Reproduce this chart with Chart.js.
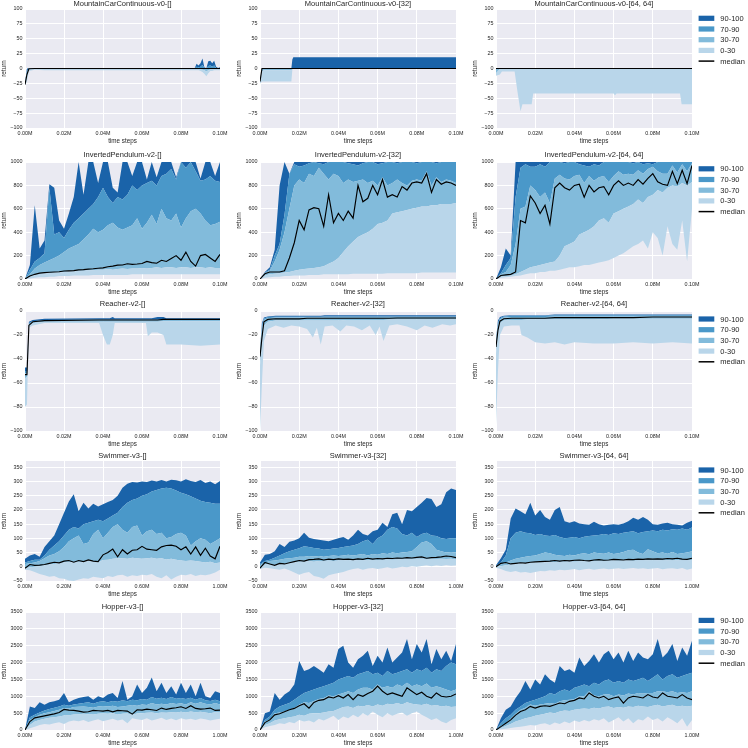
<!DOCTYPE html>
<html>
<head>
<meta charset="utf-8">
<script src="https://cdn.jsdelivr.net/npm/chart.js@4.4.1/dist/chart.umd.min.js"></script>
<style>
  body { margin: 0; background: #fff; width: 748px; height: 748px; overflow: hidden; position: relative; }
  canvas { position: absolute; }
</style>
</head>
<body>
<script>
// ================= LABELS / TICKS =================

const envNames = ['MountainCarContinuous-v0', 'InvertedPendulum-v2', 'Reacher-v2', 'Swimmer-v3', 'Hopper-v3'];
const archNames = ['[]', '[32]', '[64, 64]'];
const legendLabels = ['90-100', '70-90', '30-70', '0-30', 'median'];

const xTicksShort = [0, 0.02, 0.04, 0.06, 0.08, 0.1];
const xTicksLong = [0, 0.2, 0.4, 0.6, 0.8, 1.0];
const yTicksMC = [-100, -75, -50, -25, 0, 25, 50, 75, 100];
const yTicksIP = [0, 200, 400, 600, 800, 1000];
const yTicksRE = [-100, -80, -60, -40, -20, 0];
const yTicksSW = [-50, 0, 50, 100, 150, 200, 250, 300, 350];
const yTicksHO = [0, 500, 1000, 1500, 2000, 2500, 3000, 3500];

// time steps (millions)
const xShort = [0, 0.0025, 0.005, 0.0075, 0.01, 0.0125, 0.015, 0.0175, 0.02, 0.0225, 0.025, 0.0275, 0.03, 0.0325, 0.035, 0.0375, 0.04, 0.0425, 0.045, 0.0475, 0.05, 0.0525, 0.055, 0.0575, 0.06, 0.0625, 0.065, 0.0675, 0.07, 0.0725, 0.075, 0.0775, 0.08, 0.0825, 0.085, 0.0875, 0.09, 0.0925, 0.095, 0.0975, 0.1];
const xLong = [0, 0.025, 0.05, 0.075, 0.1, 0.125, 0.15, 0.175, 0.2, 0.225, 0.25, 0.275, 0.3, 0.325, 0.35, 0.375, 0.4, 0.425, 0.45, 0.475, 0.5, 0.525, 0.55, 0.575, 0.6, 0.625, 0.65, 0.675, 0.7, 0.725, 0.75, 0.775, 0.8, 0.825, 0.85, 0.875, 0.9, 0.925, 0.95, 0.975, 1.0];

// ================= MOUNTAIN CAR =================

const mcA_x   = [0, 0.001, 0.002, 0.005, 0.01, 0.03, 0.05, 0.07, 0.085, 0.087, 0.088, 0.089, 0.09, 0.091, 0.092, 0.093, 0.094, 0.095, 0.096, 0.097, 0.098, 0.099, 0.1];
const mcA_min = [-28, -22, -4, -2, -3, -3, -3, -3, -3, -3, -3, -3, -4, -6, -9, -13, -8, -4, -4, -3, -3, -3, -3];
const mcA_p30 = [-27, -15, -2, -1, -1.5, -1.5, -1.5, -1.5, -1.5, -1.5, -1.5, -1.5, -1.5, -2, -3, -5, -3, -1.5, -1.5, -1.5, -1.5, -1.5, -1.5];
const mcA_p70 = [-26, -8, -0.5, 0, 0, 0, 0, 0, 0, 0, 0, 0, 0, 0, 0, 0, 0, 0, 0, 0, 0, 0, 0];
const mcA_p90 = [-25, -4, 0, 0, 0, 0, 0, 0, 0, 0, 3, 2, 3, 6, 1, 0, 4, 5, 3, 5, 1, 0, 0.5];
const mcA_max = [-24, 0, 0.5, 0.5, 0.5, 0.5, 0.5, 0.5, 0.5, 0.5, 8, 5, 9, 17, 2, 0.5, 12, 13, 9, 13, 3, 1, 2];
const mcA_med = [-27, -10, -0.5, 0, 0, 0, 0, 0, 0, 0, 0, 0, 0, 0, 0, 0, 0, 0, 0, 0, 0, 0, 0];

const mcB_x   = [0, 0.001, 0.002, 0.016, 0.0165, 0.017, 0.03, 0.05, 0.07, 0.09, 0.1];
const mcB_min = [-25, -22, -22, -22, -2, 0, 0, 0, 0, 0, 0];
const mcB_p30 = [-24, -5, -3, -3, -1, 0, 0, 0, 0, 0, 0];
const mcB_p70 = [-22, 0, 0, 0, 0, 0, 0, 0, 0, 0, 0];
const mcB_p90 = [-21, 0, 0, 0, 0, 0, 0, 0, 0, 0, 0];
const mcB_max = [-20, 0, 0, 0, 15, 19, 19, 19, 19, 19, 19];
const mcB_med = [-22, 0, 0, 0, 0, 0, 0, 0, 0, 0, 0];

const mcC_x   = [0, 0.002, 0.003, 0.0095, 0.011, 0.0125, 0.0135, 0.0182, 0.019, 0.06, 0.0607, 0.0615, 0.0939, 0.0947, 0.1];
const mcC_min = [-12, -10, -5, -5, -40, -72, -60, -60, -42, -42, -45, -42, -42, -60, -60];
const mcC_p30 = [-8, -1, 0, 0, 0, 0, 0, 0, 0, 0, 0, 0, 0, 0, 0];
const mcC_p70 = [0, 0, 0, 0, 0, 0, 0, 0, 0, 0, 0, 0, 0, 0, 0];
const mcC_p90 = [0, 0, 0, 0, 0, 0, 0, 0, 0, 0, 0, 0, 0, 0, 0];
const mcC_max = [0.5, 0.5, 0.5, 0.5, 0.5, 0.5, 0.5, 0.5, 0.5, 0.5, 0.5, 0.5, 0.5, 0.5, 0.5];
const mcC_med = [0, 0, 0, 0, 0, 0, 0, 0, 0, 0, 0, 0, 0, 0, 0];

// ================= INVERTED PENDULUM =================

const ipA_min = [0, 5, 10, 15, 15, 20, 20, 25, 25, 25, 30, 30, 30, 30, 35, 35, 35, 35, 35, 35, 35, 35, 40, 40, 40, 40, 40, 40, 40, 40, 40, 40, 40, 40, 40, 40, 40, 40, 40, 40, 40];
const ipA_p30 = [0, 20, 40, 45, 50, 50, 55, 55, 60, 65, 65, 70, 70, 75, 75, 80, 80, 85, 80, 85, 90, 85, 90, 90, 95, 90, 95, 100, 95, 100, 100, 95, 100, 100, 95, 100, 100, 95, 100, 95, 95];
const ipA_p70 = [0, 40, 90, 120, 140, 160, 180, 200, 230, 260, 280, 300, 340, 380, 430, 400, 420, 460, 480, 440, 420, 440, 460, 520, 430, 480, 550, 470, 600, 520, 500, 560, 440, 520, 580, 600, 560, 500, 460, 470, 490];
const ipA_p90 = [0, 80, 150, 180, 220, 780, 380, 400, 350, 420, 480, 520, 560, 600, 640, 700, 780, 700, 650, 700, 680, 720, 800, 760, 800, 820, 840, 800, 880, 900, 940, 850, 1000, 950, 1000, 920, 840, 850, 880, 840, 830];
const ipA_max = [0, 120, 630, 260, 330, 810, 780, 500, 430, 560, 700, 1000, 720, 1000, 1000, 820, 1000, 1000, 780, 740, 1000, 1000, 880, 1000, 1000, 850, 1000, 870, 1000, 1000, 1000, 870, 1000, 1000, 1000, 1000, 860, 1000, 1000, 880, 1000];
const ipA_med = [0, 25, 40, 50, 55, 58, 60, 62, 68, 70, 72, 78, 80, 85, 88, 92, 95, 105, 110, 118, 120, 130, 125, 128, 132, 150, 140, 135, 160, 150, 175, 200, 160, 230, 150, 110, 200, 210, 180, 150, 210];

const ipB_min = [0, 10, 15, 20, 20, 25, 25, 30, 30, 30, 35, 35, 35, 40, 40, 40, 40, 40, 40, 45, 45, 45, 45, 45, 45, 45, 50, 50, 50, 50, 50, 50, 50, 55, 55, 55, 55, 55, 55, 55, 55];
const ipB_p30 = [0, 30, 40, 45, 50, 55, 60, 70, 80, 85, 90, 95, 100, 110, 130, 150, 180, 230, 280, 320, 360, 380, 400, 430, 470, 480, 500, 560, 570, 580, 590, 600, 610, 620, 620, 630, 630, 640, 640, 640, 650];
const ipB_p70 = [0, 50, 70, 150, 250, 400, 600, 800, 850, 820, 900, 880, 950, 900, 850, 900, 880, 820, 850, 830, 840, 850, 820, 840, 800, 870, 800, 820, 850, 820, 800, 840, 850, 840, 920, 800, 870, 830, 850, 840, 820];
const ipB_p90 = [0, 55, 80, 200, 300, 550, 900, 980, 960, 970, 990, 1000, 990, 980, 1000, 1000, 1000, 1000, 990, 980, 970, 990, 1000, 1000, 980, 990, 1000, 1000, 990, 1000, 1000, 1000, 990, 1000, 1000, 1000, 990, 1000, 1000, 1000, 1000];
const ipB_max = [0, 60, 100, 250, 800, 1000, 900, 1000, 1000, 1000, 1000, 1000, 1000, 1000, 1000, 1000, 1000, 1000, 1000, 1000, 1000, 1000, 1000, 1000, 1000, 1000, 1000, 1000, 1000, 1000, 1000, 1000, 1000, 1000, 1000, 1000, 1000, 1000, 1000, 1000, 1000];
const ipB_med = [0, 45, 60, 60, 60, 70, 180, 310, 500, 420, 590, 610, 600, 450, 720, 480, 560, 500, 580, 520, 800, 660, 690, 800, 720, 850, 700, 720, 700, 790, 760, 820, 830, 820, 900, 740, 850, 810, 830, 820, 800];

const ipC_min = [0, 10, 15, 20, 25, 30, 40, 50, 50, 60, 60, 70, 70, 80, 90, 100, 100, 110, 120, 120, 130, 140, 150, 160, 180, 200, 220, 250, 280, 300, 330, 260, 400, 350, 200, 450, 300, 250, 500, 150, 600];
const ipC_p30 = [0, 20, 25, 30, 40, 60, 80, 100, 110, 120, 130, 140, 150, 200, 280, 300, 320, 380, 400, 420, 450, 500, 520, 480, 560, 580, 600, 620, 640, 680, 650, 700, 720, 760, 740, 780, 800, 790, 820, 800, 830];
const ipC_p70 = [0, 40, 60, 120, 300, 600, 620, 800, 760, 700, 740, 650, 860, 890, 860, 850, 880, 890, 820, 880, 840, 870, 880, 830, 880, 920, 890, 900, 890, 930, 900, 940, 960, 920, 900, 900, 970, 910, 980, 920, 990];
const ipC_p90 = [0, 50, 120, 180, 700, 950, 980, 960, 960, 980, 960, 1000, 1000, 1000, 990, 1000, 1000, 980, 970, 960, 980, 970, 1000, 1000, 1000, 1000, 1000, 1000, 990, 1000, 980, 990, 980, 1000, 1000, 1000, 1000, 1000, 1000, 1000, 1000];
const ipC_max = [0, 100, 260, 200, 1000, 1000, 1000, 1000, 1000, 1000, 1000, 1000, 1000, 1000, 1000, 1000, 1000, 1000, 1000, 1000, 1000, 1000, 1000, 1000, 1000, 1000, 1000, 1000, 1000, 1000, 1000, 1000, 1000, 1000, 1000, 1000, 1000, 1000, 1000, 1000, 1000];
const ipC_med = [0, 30, 35, 40, 60, 500, 480, 710, 650, 560, 630, 470, 780, 820, 780, 760, 800, 810, 700, 800, 745, 780, 790, 720, 800, 840, 800, 820, 800, 850, 810, 860, 900, 830, 810, 800, 920, 815, 930, 815, 970];

// ================= REACHER =================

const reA_x   = [0, 0.001, 0.002, 0.004, 0.01, 0.038, 0.040, 0.042, 0.0435, 0.045, 0.046, 0.062, 0.063, 0.065, 0.068, 0.071, 0.0725, 0.08, 0.09, 0.1];
const reA_min = [-80, -78, -14, -12, -10, -10, -20, -28, -28, -20, -10, -10, -21, -18, -18, -20, -28, -28, -29, -28];
const reA_p30 = [-56, -55, -12, -10, -9, -9, -9, -9, -9, -9, -9, -9, -9, -9, -9, -8.5, -8.5, -8.5, -8.5, -8.5];
const reA_p70 = [-52, -52, -11, -9, -8, -7.5, -7.5, -7.5, -7.5, -7.5, -7.5, -7.5, -7.5, -7.5, -7.5, -7.5, -7.5, -7.5, -7.5, -7.5];
const reA_p90 = [-50, -50, -10, -8.5, -7.5, -7, -7, -7, -7, -7, -7, -7, -7, -7, -7, -7, -7, -7, -7, -7];
const reA_max = [-47, -47, -9, -7.5, -6.5, -6, -6, -6, -6, -5, -6, -6, -6, -6, -5, -5, -6, -6, -6, -6];
const reA_med = [-53, -53, -12, -9, -8, -7.5, -7.5, -7.5, -7.5, -7.5, -7.5, -7.5, -7.5, -7.5, -7.5, -7, -7, -7, -7, -7];

const reB_x   = [0, 0.001, 0.002, 0.004, 0.008, 0.012, 0.016, 0.02, 0.024, 0.027, 0.029, 0.031, 0.033, 0.037, 0.041, 0.044, 0.048, 0.052, 0.056, 0.059, 0.061, 0.063, 0.066, 0.07, 0.075, 0.08, 0.084, 0.088, 0.093, 0.097, 0.1];
const reB_min = [-100, -60, -25, -15, -12, -14, -12, -13, -15, -22, -14, -28, -13, -12, -17, -12, -13, -16, -12, -20, -13, -25, -12, -11, -13, -16, -12, -14, -11, -12, -11];
const reB_p30 = [-45, -28, -12, -9, -8, -8, -8, -8, -8, -8, -8, -8, -8, -8, -8, -7.5, -7.5, -7.5, -7.5, -7.5, -7.5, -7.5, -7, -7, -7, -7, -7, -7, -7, -7, -7];
const reB_p70 = [-36, -15, -7.5, -6, -5.5, -5.5, -5.5, -5.5, -5.5, -5.5, -5.5, -5.5, -5, -5, -5, -5, -5, -5, -5, -5, -5, -5, -5, -5, -5, -5, -5, -5, -5, -5, -5];
const reB_p90 = [-34, -12, -6.5, -5, -4.8, -4.8, -4.8, -4.8, -4.8, -4.8, -4.8, -4.8, -4.5, -4.5, -4.5, -4.5, -4.5, -4.5, -4.5, -4.5, -4.5, -4.5, -4.5, -4.5, -4.5, -4.5, -4.5, -4.5, -4.5, -4.5, -4.5];
const reB_max = [-32, -10, -5.5, -4.5, -4, -4, -4, -4, -4, -4, -4, -4, -3.5, -3.5, -3.5, -3.5, -3.5, -3.5, -3.5, -3.5, -3.5, -3.5, -3.5, -3.5, -3.5, -3.5, -3.5, -3.5, -3.5, -3.5, -3.5];
const reB_med = [-38, -22, -9, -7, -6.5, -6.5, -6.5, -6.5, -6, -6, -6, -6, -6, -6, -6, -6, -6, -6, -6, -6, -6, -6, -6, -5.8, -5.8, -5.8, -5.8, -5.8, -5.8, -5.8, -5.8];

const reC_x   = [0, 0.001, 0.002, 0.004, 0.008, 0.012, 0.013, 0.016, 0.02, 0.025, 0.03, 0.035, 0.04, 0.05, 0.06, 0.07, 0.08, 0.09, 0.1];
const reC_min = [-95, -50, -20, -13, -12, -12, -20, -22, -26, -27, -26, -28, -26, -27, -27, -26, -27, -26, -27];
const reC_p30 = [-35, -20, -10, -8, -7.5, -7.5, -7.5, -7, -7, -7, -7, -7, -7, -7, -6.5, -6.5, -6.5, -6.5, -6.5];
const reC_p70 = [-28, -12, -7, -5.5, -5, -5, -5, -5, -5, -5, -4.5, -4.5, -4.5, -4.5, -4.5, -4.5, -4.5, -4.5, -4.5];
const reC_p90 = [-26, -10, -6, -4.5, -4, -4, -4, -4, -4, -4, -3.5, -3.5, -3.5, -3.5, -3.5, -3.5, -3.5, -3.5, -3.5];
const reC_max = [-24, -8, -5, -4, -3.5, -3.5, -3.5, -3.5, -3.5, -3.5, -3, -3, -3, -3, -3, -3, -3, -3, -3];
const reC_med = [-30, -16, -8.5, -6.5, -6, -6, -6, -6, -6, -6, -5.5, -5.5, -5.5, -5.5, -5.5, -5.5, -5, -5, -5];

// ================= SWIMMER =================

const swA_min = [-10, -12, -18, -25, -30, -35, -32, -40, -42, -48, -50, -45, -40, -42, -35, -38, -40, -32, -36, -30, -28, -35, -30, -32, -28, -30, -25, -35, -40, -30, -45, -35, -28, -30, -25, -32, -28, -30, -26, -20, -10];
const swA_p30 = [-5, -2, 0, 2, 5, 8, 10, 12, 15, 18, 15, 18, 16, 22, 18, 16, 24, 25, 28, 30, 30, 28, 32, 30, 28, 30, 32, 28, 30, 26, 28, 25, 22, 20, 22, 20, 18, 15, 18, 12, 15];
const swA_p70 = [10, 12, 15, 20, 30, 40, 45, 55, 70, 90, 100, 110, 80, 85, 115, 130, 100, 120, 140, 150, 130, 120, 140, 145, 110, 125, 130, 115, 120, 100, 105, 115, 120, 110, 75, 90, 100, 95, 80, 90, 100];
const swA_p90 = [15, 20, 25, 25, 40, 60, 75, 90, 110, 130, 140, 135, 150, 155, 160, 165, 160, 170, 180, 190, 210, 225, 235, 240, 250, 255, 265, 270, 275, 278, 275, 268, 260, 255, 248, 240, 232, 228, 225, 222, 222];
const swA_max = [28, 40, 45, 35, 70, 90, 110, 150, 190, 230, 255, 195, 225, 205, 222, 212, 220, 228, 235, 250, 278, 292, 298, 296, 300, 298, 303, 300, 305, 300, 306, 304, 300, 308, 302, 298, 305, 295, 300, 290, 302];
const swA_med = [-5, 8, 5, 6, 8, 12, 16, 14, 20, 22, 16, 22, 18, 24, 20, 18, 42, 50, 62, 35, 60, 45, 58, 60, 72, 62, 60, 58, 70, 75, 76, 72, 60, 70, 45, 70, 40, 65, 38, 28, 72];

const swB_min = [-8, -3, -5, -8, -10, -6, -12, -20, -28, -22, -18, -32, -36, -42, -30, -25, -22, -18, -12, -8, -5, -10, -6, -4, -8, -5, -2, -6, -3, 0, -2, 2, 0, 3, 5, 2, 5, 3, 6, 4, 5];
const swB_p30 = [-5, 8, 10, 4, 12, 9, 12, 16, 18, 18, 20, 18, 20, 20, 22, 20, 22, 22, 24, 22, 24, 24, 22, 25, 24, 25, 26, 25, 26, 27, 28, 27, 28, 28, 27, 28, 27, 28, 27, 28, 26];
const swB_p70 = [5, 15, 20, 22, 25, 28, 30, 32, 35, 35, 38, 36, 38, 35, 38, 40, 38, 40, 42, 40, 42, 45, 40, 45, 42, 48, 45, 50, 48, 50, 52, 55, 70, 85, 90, 80, 60, 55, 50, 52, 50];
const swB_p90 = [10, 20, 25, 32, 40, 48, 55, 60, 65, 72, 70, 66, 64, 60, 62, 64, 66, 70, 72, 75, 80, 90, 95, 80, 100, 110, 130, 140, 135, 115, 110, 120, 105, 115, 120, 110, 108, 100, 98, 100, 100];
const swB_max = [15, 42, 45, 55, 80, 70, 88, 92, 100, 120, 102, 98, 95, 92, 90, 95, 100, 105, 95, 110, 130, 115, 110, 125, 130, 155, 140, 185, 190, 150, 200, 195, 210, 225, 242, 238, 210, 220, 262, 275, 270];
const swB_med = [-5, 15, 10, 5, 12, 10, 14, 18, 22, 20, 25, 26, 28, 24, 27, 25, 28, 26, 27, 25, 28, 26, 30, 27, 29, 28, 30, 29, 31, 30, 32, 31, 33, 35, 30, 32, 33, 35, 38, 36, 32];

const swC_min = [-3, -8, -15, -18, -15, -20, -18, -22, -18, -15, -16, -12, -14, -10, -12, -10, -8, -12, -9, -7, -10, -8, -6, -9, -7, -5, -8, -6, -4, -7, -5, -8, -6, -4, -9, -6, -5, -8, -4, -10, -6];
const swC_p30 = [0, 2, 5, 8, 10, 12, 12, 14, 15, 15, 16, 16, 17, 18, 18, 19, 18, 19, 20, 20, 20, 21, 20, 21, 22, 21, 22, 22, 21, 22, 22, 23, 22, 23, 22, 23, 22, 23, 22, 22, 24];
const swC_p70 = [2, 8, 15, 22, 28, 32, 35, 38, 40, 45, 50, 48, 42, 40, 38, 42, 40, 45, 48, 44, 50, 48, 46, 50, 45, 48, 52, 58, 60, 50, 45, 62, 55, 48, 50, 46, 52, 45, 48, 50, 55];
const swC_p90 = [3, 15, 40, 100, 120, 125, 120, 118, 112, 115, 110, 108, 112, 105, 100, 102, 105, 100, 106, 108, 110, 112, 115, 112, 118, 115, 120, 122, 125, 118, 122, 125, 128, 125, 130, 128, 132, 130, 135, 130, 138];
const swC_max = [5, 30, 60, 170, 205, 195, 185, 225, 180, 200, 175, 165, 200, 210, 160, 155, 160, 152, 150, 148, 158, 150, 145, 148, 150, 148, 152, 160, 172, 165, 175, 165, 150, 148, 152, 155, 150, 148, 145, 155, 162];
const swC_med = [0, 12, 15, 10, 12, 14, 13, 16, 17, 18, 19, 20, 22, 20, 22, 21, 23, 24, 22, 21, 24, 25, 23, 24, 26, 25, 24, 26, 25, 27, 26, 28, 27, 28, 27, 29, 28, 30, 27, 26, 30];

// ================= HOPPER =================

const hoA_min = [0, 50, 100, 150, 180, 160, 200, 230, 180, 250, 280, 260, 300, 240, 280, 320, 260, 300, 330, 280, 310, 200, 350, 320, 300, 350, 280, 320, 360, 300, 340, 290, 350, 310, 330, 300, 340, 320, 280, 310, 330];
const hoA_p30 = [0, 150, 250, 300, 330, 360, 380, 400, 430, 440, 460, 470, 480, 470, 460, 480, 490, 480, 500, 460, 480, 490, 450, 490, 500, 510, 520, 500, 520, 510, 530, 520, 540, 520, 550, 530, 540, 520, 500, 530, 520];
const hoA_p70 = [0, 300, 380, 450, 500, 530, 560, 600, 650, 640, 680, 690, 700, 680, 660, 700, 710, 700, 720, 680, 700, 720, 740, 720, 760, 740, 800, 760, 780, 760, 800, 770, 790, 760, 820, 780, 820, 780, 760, 800, 760];
const hoA_p90 = [0, 380, 450, 520, 580, 620, 660, 700, 750, 720, 760, 780, 800, 820, 780, 830, 850, 820, 860, 840, 880, 850, 900, 880, 920, 900, 980, 930, 960, 920, 980, 930, 950, 920, 960, 900, 950, 880, 860, 900, 850];
const hoA_max = [0, 700, 650, 820, 750, 820, 850, 900, 1100, 820, 900, 950, 980, 1000, 900, 1000, 950, 1050, 1100, 950, 1450, 900, 1000, 1350, 1100, 1250, 1560, 1150, 1400, 1100, 1300, 1050, 1400, 1100, 1350, 1000, 1400, 1000, 950, 1150, 1100];
const hoA_med = [0, 250, 360, 390, 420, 450, 480, 520, 610, 590, 580, 560, 530, 540, 580, 570, 560, 580, 540, 580, 570, 560, 470, 600, 590, 620, 600, 580, 650, 610, 640, 660, 690, 640, 720, 640, 620, 630, 650, 580, 590];

const hoB_min = [0, 80, 120, 150, 200, 180, 240, 200, 300, 250, 280, 220, 330, 280, 350, 420, 300, 400, 350, 450, 380, 500, 420, 550, 450, 380, 500, 420, 480, 520, 420, 500, 550, 450, 380, 300, 350, 250, 200, 300, 350];
const hoB_p30 = [0, 150, 200, 280, 320, 350, 380, 400, 450, 420, 480, 500, 500, 520, 550, 560, 620, 680, 700, 650, 720, 700, 740, 700, 760, 720, 780, 760, 800, 760, 820, 780, 760, 740, 780, 720, 740, 700, 720, 680, 700];
const hoB_p70 = [0, 250, 300, 500, 520, 550, 600, 650, 750, 820, 800, 860, 920, 950, 1020, 1000, 1050, 1100, 1150, 1100, 1200, 1250, 1250, 1200, 1350, 1250, 1300, 1250, 1350, 1300, 1400, 1300, 1350, 1300, 1380, 1250, 1300, 1250, 1200, 1150, 1200];
const hoB_p90 = [0, 300, 400, 600, 700, 750, 800, 900, 1000, 1100, 1150, 1200, 1250, 1300, 1350, 1400, 1500, 1550, 1600, 1550, 1650, 1700, 1750, 1650, 1700, 1600, 1750, 1650, 1700, 1750, 1800, 1700, 1800, 1750, 1850, 1700, 1800, 1750, 1900, 2000, 1950];
const hoB_max = [0, 500, 550, 1100, 900, 1050, 1150, 1350, 2050, 1750, 1800, 1900, 1800, 1700, 1950, 1850, 2400, 2500, 2000, 1850, 2100, 2200, 2350, 1900, 2200, 2000, 2450, 2000, 2150, 2300, 2700, 2100, 2550, 2300, 2700, 1950, 2400, 2100, 2350, 2050, 2550];
const hoB_med = [0, 220, 300, 450, 480, 540, 600, 640, 720, 780, 650, 820, 880, 900, 980, 950, 1020, 950, 1050, 900, 1050, 1000, 1080, 1150, 1300, 1150, 1050, 1100, 1050, 1000, 1250, 1150, 1050, 1120, 1000, 950, 1100, 1000, 980, 1000, 1070];

const hoC_min = [0, 20, 40, 60, 80, 100, 120, 150, 130, 180, 200, 150, 220, 180, 250, 200, 280, 240, 300, 250, 320, 280, 350, 220, 300, 380, 250, 350, 200, 320, 280, 400, 300, 350, 250, 380, 300, 200, 350, 100, 300];
const hoC_p30 = [0, 60, 120, 180, 250, 300, 350, 380, 420, 450, 480, 520, 500, 550, 580, 560, 600, 620, 640, 620, 660, 640, 680, 700, 650, 680, 660, 700, 680, 720, 700, 680, 720, 750, 700, 730, 750, 700, 720, 700, 720];
const hoC_p70 = [0, 120, 200, 330, 480, 600, 660, 760, 720, 760, 780, 800, 780, 850, 880, 900, 920, 1000, 1000, 1150, 1020, 1000, 1050, 1060, 1000, 1050, 1020, 1080, 1050, 1100, 1080, 1100, 1100, 1150, 1150, 1120, 1150, 1100, 1120, 1100, 1150];
const hoC_p90 = [0, 200, 350, 450, 600, 700, 800, 850, 900, 950, 1000, 1100, 1050, 1150, 1200, 1150, 1250, 1300, 1350, 1300, 1400, 1350, 1450, 1500, 1400, 1450, 1400, 1500, 1450, 1500, 1550, 1450, 1550, 1650, 1500, 1600, 1650, 1550, 1600, 1650, 1700];
const hoC_max = [0, 350, 600, 700, 950, 1150, 1450, 1200, 1500, 1350, 1650, 1500, 1400, 1900, 1750, 1800, 1700, 2150, 1900, 2050, 2250, 2000, 2250, 2350, 2100, 2300, 2000, 2350, 2050, 2300, 2150, 2100, 2250, 2700, 2150, 2300, 2550, 2050, 2450, 2200, 2650];
const hoC_med = [0, 100, 200, 300, 440, 550, 600, 700, 650, 700, 720, 700, 750, 800, 780, 850, 880, 950, 920, 1100, 1000, 950, 1000, 900, 950, 980, 800, 950, 1000, 980, 950, 1050, 980, 950, 1100, 1000, 980, 950, 1050, 950, 900];

// ================= STYLE / LAYOUT =================

const FONT = "'Liberation Sans', Arial, sans-serif";
const TEXT = '#262626';
const BG = '#eaeaf2';
const BAND_COLORS = ['#b9d6ea', '#82bbdb', '#4a98c9', '#1a63a9']; // 0-30, 30-70, 70-90, 90-100

const colLeft = [25, 260, 496];
const colWidth = [195, 196, 196];
const rowTop = [9, 162, 311, 461, 612];
const rowHeight = [119, 117, 120, 120, 118];
const titleGap = [5, 7.5, 7, 5.5, 5.5];
const legendGap = [9.3, 6.8, 8, 9, 8.4];
const rowYMin = [-100, 0, -100, -50, 0];
const rowYMax = [100, 1000, 0, 372, 3500];
const rowYTicks = [yTicksMC, yTicksIP, yTicksRE, yTicksSW, yTicksHO];
const rowXTicks = [xTicksShort, xTicksShort, xTicksShort, xTicksLong, xTicksLong];
const rowXMax = [0.1, 0.1, 0.1, 1.0, 1.0];

const AXIS_L = 25, PAD_T = 12, AXIS_B = 18;

const panels = [
  [
    {xs: mcA_x, lo: mcA_min, p30: mcA_p30, p70: mcA_p70, p90: mcA_p90, hi: mcA_max, med: mcA_med},
    {xs: mcB_x, lo: mcB_min, p30: mcB_p30, p70: mcB_p70, p90: mcB_p90, hi: mcB_max, med: mcB_med},
    {xs: mcC_x, lo: mcC_min, p30: mcC_p30, p70: mcC_p70, p90: mcC_p90, hi: mcC_max, med: mcC_med}
  ],
  [
    {xs: xShort, lo: ipA_min, p30: ipA_p30, p70: ipA_p70, p90: ipA_p90, hi: ipA_max, med: ipA_med},
    {xs: xShort, lo: ipB_min, p30: ipB_p30, p70: ipB_p70, p90: ipB_p90, hi: ipB_max, med: ipB_med},
    {xs: xShort, lo: ipC_min, p30: ipC_p30, p70: ipC_p70, p90: ipC_p90, hi: ipC_max, med: ipC_med}
  ],
  [
    {xs: reA_x, lo: reA_min, p30: reA_p30, p70: reA_p70, p90: reA_p90, hi: reA_max, med: reA_med},
    {xs: reB_x, lo: reB_min, p30: reB_p30, p70: reB_p70, p90: reB_p90, hi: reB_max, med: reB_med},
    {xs: reC_x, lo: reC_min, p30: reC_p30, p70: reC_p70, p90: reC_p90, hi: reC_max, med: reC_med}
  ],
  [
    {xs: xLong, lo: swA_min, p30: swA_p30, p70: swA_p70, p90: swA_p90, hi: swA_max, med: swA_med},
    {xs: xLong, lo: swB_min, p30: swB_p30, p70: swB_p70, p90: swB_p90, hi: swB_max, med: swB_med},
    {xs: xLong, lo: swC_min, p30: swC_p30, p70: swC_p70, p90: swC_p90, hi: swC_max, med: swC_med}
  ],
  [
    {xs: xLong, lo: hoA_min, p30: hoA_p30, p70: hoA_p70, p90: hoA_p90, hi: hoA_max, med: hoA_med},
    {xs: xLong, lo: hoB_min, p30: hoB_p30, p70: hoB_p70, p90: hoB_p90, hi: hoB_max, med: hoB_med},
    {xs: xLong, lo: hoC_min, p30: hoC_p30, p70: hoC_p70, p90: hoC_p90, hi: hoC_max, med: hoC_med}
  ]
];

// background, title and legend drawn around the plot area
const panelPlugin = {
  id: 'panel',
  beforeDraw(chart, args, opts) {
    const {ctx, chartArea: a} = chart;
    ctx.save();
    ctx.fillStyle = BG;
    ctx.fillRect(a.left, a.top, a.right - a.left, a.bottom - a.top);
    ctx.restore();
  },
  afterDraw(chart, args, opts) {
    const {ctx, chartArea: a} = chart;
    ctx.save();
    ctx.fillStyle = TEXT;
    ctx.font = '7.5px ' + FONT;
    ctx.textAlign = 'center';
    ctx.textBaseline = 'middle';
    ctx.fillText(opts.title, (a.left + a.right) / 2, a.top - opts.titleGap);

    if (opts.legend) {
      const bx = a.right + 6.6, tx = a.right + 28.3;
      ctx.textAlign = 'left';
      legendLabels.forEach((lab, i) => {
        const y = a.top + opts.legendGap + i * 10.7;
        if (i < 4) {
          ctx.fillStyle = BAND_COLORS[3 - i];
          ctx.fillRect(bx, y - 2.6, 15.7, 5.2);
        } else {
          ctx.strokeStyle = '#000';
          ctx.lineWidth = 1.5;
          ctx.beginPath();
          ctx.moveTo(bx, y);
          ctx.lineTo(bx + 15.7, y);
          ctx.stroke();
        }
        ctx.fillStyle = TEXT;
        ctx.fillText(lab, tx, y + 0.5);
      });
    }
    ctx.restore();
  }
};

function fmtY(v) {
  return v < 0 ? '\u2212' + Math.abs(v) : String(v);
}

function makePanel(r, c) {
  const d = panels[r][c];
  const plotW = colWidth[c], plotH = rowHeight[r];
  const padR = c === 2 ? 748 - (colLeft[c] + plotW) : 15;
  const W = AXIS_L + plotW + padR, H = PAD_T + plotH + AXIS_B;

  const cv = document.createElement('canvas');
  cv.width = W;
  cv.height = H;
  cv.style.left = (colLeft[c] - AXIS_L) + 'px';
  cv.style.top = (rowTop[r] - PAD_T) + 'px';
  cv.style.width = W + 'px';
  cv.style.height = H + 'px';
  document.body.appendChild(cv);

  const pts = ys => d.xs.map((x, i) => ({x: x, y: ys[i]}));
  const band = (ys, color) => ({
    data: pts(ys), borderWidth: 0, pointRadius: 0, fill: '-1', backgroundColor: color
  });

  new Chart(cv, {
    type: 'line',
    data: {
      datasets: [
        {data: pts(d.lo), borderWidth: 0, pointRadius: 0, fill: false},
        band(d.p30, BAND_COLORS[0]),
        band(d.p70, BAND_COLORS[1]),
        band(d.p90, BAND_COLORS[2]),
        band(d.hi, BAND_COLORS[3]),
        {data: pts(d.med), borderColor: '#000', borderWidth: 1.15, pointRadius: 0, fill: false, order: -1}
      ]
    },
    options: {
      responsive: false,
      animation: false,
      events: [],
      layout: {padding: {left: 0, top: PAD_T, right: padR, bottom: 0}},
      elements: {line: {tension: 0}},
      scales: {
        x: {
          type: 'linear',
          min: 0,
          max: rowXMax[r],
          afterFit: s => { s.height = AXIS_B; },
          afterBuildTicks: s => { s.ticks = rowXTicks[r].map(v => ({value: v})); },
          grid: {color: '#fff', lineWidth: 1, drawTicks: false},
          border: {display: false},
          ticks: {
            padding: 1.8, maxRotation: 0, autoSkip: false, color: TEXT,
            font: {family: FONT, size: 5.4},
            callback: v => v.toFixed(2) + 'M'
          },
          title: {display: true, text: 'time steps', color: TEXT, font: {family: FONT, size: 6.3}, padding: {top: 0, bottom: 1.2}}
        },
        y: {
          min: rowYMin[r],
          max: rowYMax[r],
          afterFit: s => { s.width = AXIS_L; },
          afterBuildTicks: s => { s.ticks = rowYTicks[r].map(v => ({value: v})); },
          grid: {color: '#fff', lineWidth: 1, drawTicks: false},
          border: {display: false},
          ticks: {padding: 2.5, color: TEXT, font: {family: FONT, size: 5.4}, callback: fmtY},
          title: {display: true, text: 'return', color: TEXT, font: {family: FONT, size: 6.3}, padding: {top: 0.5, bottom: 0}}
        }
      },
      plugins: {
        legend: {display: false},
        tooltip: {enabled: false},
        panel: {
          title: envNames[r] + '-' + archNames[c],
          titleGap: titleGap[r],
          legendGap: legendGap[r],
          legend: c === 2
        }
      }
    },
    plugins: [panelPlugin]
  });
}

// ================= RUN ON PAGE LOAD =================

document.addEventListener('DOMContentLoaded', function () {
  for (let r = 0; r < 5; r++) {
    for (let c = 0; c < 3; c++) {
      makePanel(r, c);
    }
  }
});
</script>
</body>
</html>
